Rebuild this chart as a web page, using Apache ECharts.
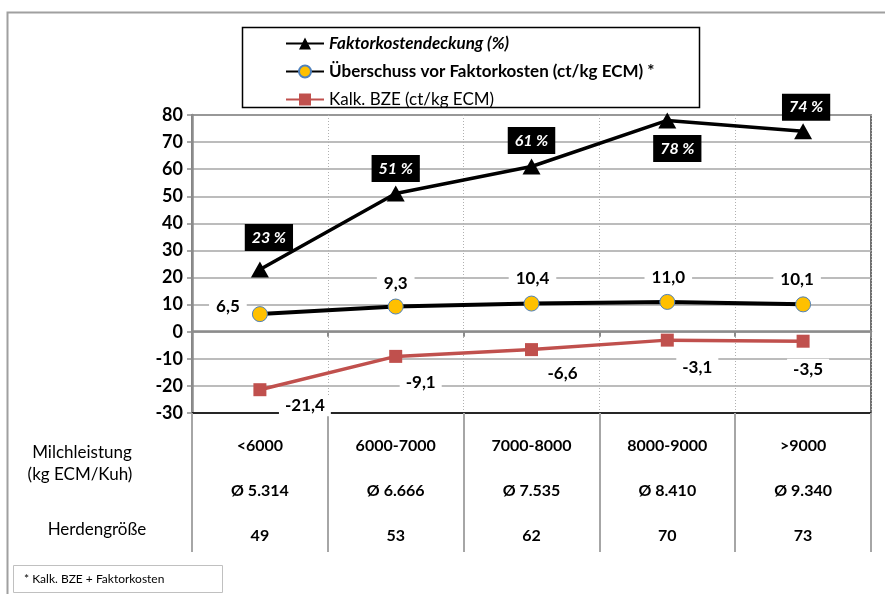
<!DOCTYPE html>
<html>
<head>
<meta charset="utf-8">
<script src="https://cdn.jsdelivr.net/npm/echarts@6/dist/echarts.min.js"></script>
<style>html,body{margin:0;padding:0;background:#fff;overflow:hidden;}#c{width:885px;height:594px;}</style>
</head>
<body>
<div id="c"></div>
<script>
const categories = ['<6000', '6000-7000', '7000-8000', '8000-9000', '>9000'];
const avgYield = ['Ø 5.314', 'Ø 6.666', 'Ø 7.535', 'Ø 8.410', 'Ø 9.340'];
const herdSize = ['49', '53', '62', '70', '73'];
const factorCover = [23, 51, 61, 78, 74];
const surplus = [6.5, 9.3, 10.4, 11.0, 10.1];
const bze = [-21.4, -9.1, -6.6, -3.1, -3.5];
const yTicks = { min: -30, max: 80, interval: 10 };

const names = ['Faktorkostendeckung (%)', 'Überschuss vor Faktorkosten (ct/kg ECM) *', 'Kalk. BZE (ct/kg ECM)'];

const FONT = 'Lato, "Open Sans", sans-serif';
const fmtDe = v => v.toFixed(1).replace('.', ',');

// label offsets (style, not data)
const coverOff = [[9, -32], [0, -25], [0, -26], [10, 28], [3, -24]];
const surplusOff = [[-32, -8], [0, -23], [1, -25], [1, -24], [-6, -25]];
const bzeOff = [[45, 16], [25, 26], [31, 24], [30, 27], [5, 28]];

const chart = echarts.init(document.getElementById('c'), null, { renderer: 'canvas' });

const option = {
  backgroundColor: '#fff',
  animation: false,
  textStyle: { fontFamily: FONT },
  grid: {
    left: 192, right: 14, top: 115, bottom: 181,
    show: true, borderColor: '#404040', borderWidth: 1.5
  },
  legend: {
    left: 280, top: 30, orient: 'vertical',
    itemWidth: 38, itemHeight: 15, itemGap: 11,
    textStyle: { fontFamily: FONT, fontSize: 17, fontWeight: 'bold', color: '#000' },
    data: [
      { name: names[0], textStyle: { fontStyle: 'italic', fontWeight: 'bold' } },
      { name: names[1], textStyle: { fontWeight: 'bold' } },
      { name: names[2], textStyle: { fontWeight: 'normal' } }
    ]
  },
  xAxis: [
    {
      type: 'category', data: categories, position: 'bottom',
      axisLine: { onZero: false, lineStyle: { color: '#000', width: 1.5 } },
      axisTick: { show: true, length: 139, lineStyle: { color: '#a6a6a6', width: 2 } },
      splitLine: { show: true, lineStyle: { color: '#b0b0b0', type: [1, 2], width: 1 } },
      axisLabel: {
        margin: 10,
        formatter: (v, i) => '{a|' + v + '}\n{a|' + avgYield[i] + '}\n{a|' + herdSize[i] + '}',
        rich: { a: { fontFamily: FONT, fontSize: 16, fontWeight: 'bold', color: '#000', lineHeight: 45 } }
      }
    },
    {
      type: 'category', data: categories, position: 'bottom',
      axisLine: { onZero: true, lineStyle: { color: '#8c8c8c', width: 2.5 } },
      axisTick: { show: true, length: 5, lineStyle: { color: '#8c8c8c', width: 2 } },
      axisLabel: { show: false },
      splitLine: { show: false }
    }
  ],
  yAxis: {
    type: 'value', min: yTicks.min, max: yTicks.max, interval: yTicks.interval,
    axisLine: { show: true, onZero: false, lineStyle: { color: '#8c8c8c', width: 2.5 } },
    axisTick: { show: true, length: 5, lineStyle: { color: '#8c8c8c', width: 1.5 } },
    axisLabel: { fontFamily: FONT, fontSize: 18, fontWeight: 'bold', color: '#000', margin: 9 },
    splitLine: { lineStyle: { color: '#a6a6a6', width: 1.5 } }
  },
  series: [
    {
      name: names[2], type: 'line', xAxisIndex: 0,
      data: bze.map((v, i) => ({ value: v, label: { offset: bzeOff[i] } })),
      symbol: 'rect', symbolSize: 13,
      itemStyle: { color: '#C0504D' },
      lineStyle: { color: '#C0504D', width: 3.5 },
      label: {
        show: true, position: 'inside', formatter: p => fmtDe(p.value),
        fontFamily: FONT, fontSize: 17, fontWeight: 'bold', color: '#000',
        backgroundColor: '#fff', padding: [2, 6]
      },
      z: 3
    },
    {
      name: names[1], type: 'line', xAxisIndex: 0,
      data: surplus.map((v, i) => ({ value: v, label: { offset: surplusOff[i] } })),
      symbol: 'circle', symbolSize: 15,
      itemStyle: { color: '#FFC000', borderColor: '#4F81BD', borderWidth: 1 },
      lineStyle: { color: '#000', width: 4 },
      label: {
        show: true, position: 'inside', formatter: p => fmtDe(p.value),
        fontFamily: FONT, fontSize: 17, fontWeight: 'bold', color: '#000',
        backgroundColor: '#fff', padding: [2, 7]
      },
      z: 4
    },
    {
      name: names[0], type: 'line', xAxisIndex: 0,
      data: factorCover.map((v, i) => ({ value: v, label: { offset: coverOff[i] } })),
      symbol: 'triangle', symbolSize: [18, 16],
      itemStyle: { color: '#000' },
      lineStyle: { color: '#000', width: 3.5 },
      label: {
        show: true, position: 'inside', formatter: p => p.value + ' %',
        fontFamily: FONT, fontSize: 16, fontWeight: 'bold', fontStyle: 'italic', color: '#fff',
        backgroundColor: '#000', padding: [6, 7, 5, 7]
      },
      z: 5
    }
  ],
  graphic: [
    { type: 'polyline', shape: { points: [[7.5, 594], [7.5, 12.5], [885, 12.5]] }, style: { fill: 'none', stroke: '#a0a0a0', lineWidth: 2 }, z: -10 },
    { type: 'rect', shape: { x: 242.5, y: 27.5, width: 457, height: 80 }, style: { fill: '#fff', stroke: '#000', lineWidth: 1.5 }, z: -5 },
    { type: 'rect', shape: { x: 13.5, y: 565.5, width: 209, height: 27 }, style: { fill: '#fff', stroke: '#c0c0c0', lineWidth: 1 } },
    { type: 'text', x: 24, y: 579, style: { text: '* Kalk. BZE + Faktorkosten', fontFamily: FONT, fontSize: 12, fill: '#000', textVerticalAlign: 'middle' } },
    { type: 'text', x: 82, y: 453, style: { text: 'Milchleistung', fontFamily: FONT, fontSize: 17, fill: '#000', textAlign: 'center', textVerticalAlign: 'middle' } },
    { type: 'text', x: 80, y: 475, style: { text: '(kg ECM/Kuh)', fontFamily: FONT, fontSize: 17, fill: '#000', textAlign: 'center', textVerticalAlign: 'middle' } },
    { type: 'text', x: 97, y: 530, style: { text: 'Herdengröße', fontFamily: FONT, fontSize: 17, fill: '#000', textAlign: 'center', textVerticalAlign: 'middle' } }
  ]
};
chart.setOption(option);
</script>
</body>
</html>
